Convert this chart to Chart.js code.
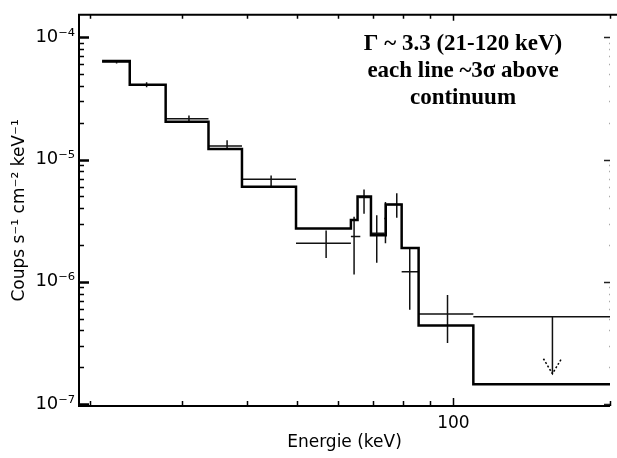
<!DOCTYPE html>
<html>
<head>
<meta charset="utf-8">
<script src="https://cdn.jsdelivr.net/npm/chart.js@4.4.0/dist/chart.umd.min.js"></script>
<style>
  body { margin: 0; background: #fff; }
</style>
</head>
<body>
<canvas id="spectre" width="617" height="458"></canvas>
<script>
// modele : bords des canaux (keV) et flux
const modelEdges = [21.1, 23.85, 27.96, 33.8, 39.2, 49.8, 63.5, 65.4, 69.4, 74.1, 79.5, 85.7, 109.2, 200];
const modelFlux = [6.4e-5, 4.1e-5, 2.04e-5, 1.22e-5, 6.0e-6, 2.73e-6, 3.2e-6, 5.0e-6, 2.4e-6, 4.3e-6, 1.89e-6, 4.4e-7, 1.45e-7];

// points mesures (croix)
const ptE    = [22.5, 25.7, 31.0, 36.7, 44.6, 56.9, 64.4, 67.3, 71.2, 74.0, 77.8, 82.4, 97.4];
const ptElo  = [21.1, 23.85, 27.96, 33.8, 39.2, 49.8, 63.5, 65.8, 69.4, 73.6, 74.7, 79.5, 85.7];
const ptEhi  = [23.85, 27.96, 33.8, 39.2, 49.8, 63.5, 66.2, 69.4, 73.7, 74.4, 79.5, 85.5, 109.2];
const ptFlux = [6.3e-5, 4.1e-5, 2.16e-5, 1.29e-5, 6.9e-6, 2.07e-6, 2.35e-6, 4.9e-6, 2.5e-6, 3.3e-6, 4.3e-6, 1.21e-6, 5.45e-7];
const ptLo   = [6.1e-5, 3.9e-5, 2.0e-5, 1.2e-5, 6.0e-6, 1.57e-6, 1.15e-6, 3.6e-6, 1.43e-6, 2.07e-6, 3.35e-6, 5.9e-7, 3.16e-7];
const ptHi   = [6.5e-5, 4.3e-5, 2.3e-5, 1.44e-5, 7.4e-6, 2.63e-6, 3.4e-6, 5.7e-6, 3.5e-6, 4.5e-6, 5.3e-6, 1.89e-6, 7.8e-7];

// limite superieure
const ulE    = [155];
const ulElo  = [109.2];
const ulEhi  = [200];
const ulFlux = [5.19e-7];
const ulTip  = [1.77e-7];

// graduations
const xTicks  = [20, 30, 40, 50, 60, 70, 80, 90, 100, 200];
const xLabels = ['', '', '', '', '', '', '', '', '100', ''];
const yDecades = [1e-7, 1e-6, 1e-5, 1e-4];
const yLabels  = ['10⁻⁷', '10⁻⁶', '10⁻⁵', '10⁻⁴'];

const texte = ['Γ ~ 3.3 (21-120 keV)', 'each line ~3σ above', 'continuum'];

const modele = modelFlux.map((f, i) => ({ x: modelEdges[i], y: f }));
modele.push({ x: modelEdges[modelEdges.length - 1], y: modelFlux[modelFlux.length - 1] });

const barres = [];
ptE.forEach((e, i) => {
  barres.push({ x: ptElo[i], y: ptFlux[i] }, { x: ptEhi[i], y: ptFlux[i] }, { x: e, y: null });
  barres.push({ x: e, y: ptLo[i] }, { x: e, y: ptHi[i] }, { x: e, y: null });
});
ulE.forEach((e, i) => {
  barres.push({ x: ulElo[i], y: ulFlux[i] }, { x: ulEhi[i], y: ulFlux[i] }, { x: e, y: null });
  barres.push({ x: e, y: ulFlux[i] }, { x: e, y: ulTip[i] }, { x: e, y: null });
});

const yTicks = [];
yDecades.forEach((d, k) => {
  for (let m = 1; m <= 9; m++) {
    const v = m * d;
    if (v >= 0.964e-7 && v <= 1.53e-4) yTicks.push({ value: v, major: m === 1, label: m === 1 ? yLabels[k] : '' });
  }
});

const cadre = {
  id: 'cadre',
  afterDatasetsDraw(chart) {
    const { ctx, chartArea: a, scales: { x, y } } = chart;
    ctx.save();
    ctx.lineCap = 'butt';
    // graduations y (gauche + droite)
    y.ticks.forEach(t => {
      const py = Math.round(y.getPixelForValue(t.value)) + 0.5;
      ctx.strokeStyle = '#000';
      ctx.lineWidth = t.major ? 2.5 : 1.5;
      ctx.beginPath();
      ctx.moveTo(a.left, py);
      ctx.lineTo(a.left + (t.major ? 10 : 5), py);
      ctx.stroke();
      ctx.strokeStyle = t.major ? '#222' : '#aaa';
      ctx.lineWidth = 1.5;
      ctx.beginPath();
      ctx.moveTo(a.right, py);
      ctx.lineTo(a.right + 4 - (t.major ? 10 : 5), py);
      ctx.stroke();
    });
    // graduations x (bas + haut)
    x.ticks.forEach(t => {
      const px = Math.round(x.getPixelForValue(t.value)) + 0.5;
      ctx.strokeStyle = '#000';
      ctx.lineWidth = 1.5;
      ctx.beginPath();
      ctx.moveTo(px, a.bottom);
      ctx.lineTo(px, a.bottom - (t.major ? 8 : 5));
      ctx.moveTo(px, a.top);
      ctx.lineTo(px, a.top + (t.major ? 6 : 4));
      ctx.stroke();
    });
    // cadre
    ctx.strokeStyle = '#000';
    ctx.lineWidth = 2;
    ctx.beginPath();
    ctx.moveTo(chart.width, a.top);
    ctx.lineTo(a.left, a.top);
    ctx.lineTo(a.left, a.bottom);
    ctx.lineTo(a.right, a.bottom);
    ctx.stroke();
    // fleche de la limite superieure
    ctx.lineWidth = 1.5;
    ctx.setLineDash([2, 2]);
    ulE.forEach((e, i) => {
      const px = x.getPixelForValue(e);
      const py = y.getPixelForValue(ulTip[i]);
      ctx.beginPath();
      ctx.moveTo(px - 9, py - 15);
      ctx.lineTo(px, py);
      ctx.lineTo(px + 9, py - 15);
      ctx.stroke();
    });
    ctx.setLineDash([]);
    // texte
    ctx.fillStyle = '#000';
    ctx.font = 'bold 23px "Liberation Serif"';
    ctx.textAlign = 'center';
    ctx.textBaseline = 'alphabetic';
    texte.forEach((l, i) => ctx.fillText(l, 463, 50 + i * 27));
    ctx.restore();
  }
};

new Chart(document.getElementById('spectre'), {
  type: 'line',
  data: {
    datasets: [
      {
        data: modele,
        stepped: true,
        borderColor: '#000',
        borderWidth: 2.5,
        borderJoinStyle: 'miter',
        pointRadius: 0,
        fill: false
      },
      {
        data: barres,
        borderColor: '#111',
        borderWidth: 1.5,
        pointRadius: 0,
        spanGaps: false,
        fill: false
      }
    ]
  },
  options: {
    responsive: false,
    animation: false,
    devicePixelRatio: 1,
    layout: { padding: { top: 7, right: 4, left: 0, bottom: 0 } },
    plugins: { legend: { display: false }, tooltip: { enabled: false } },
    scales: {
      x: {
        type: 'logarithmic',
        min: 19.05,
        max: 200,
        grid: { display: false, drawTicks: false },
        border: { display: false },
        afterBuildTicks: s => { s.ticks = xTicks.map((v, i) => ({ value: v, major: xLabels[i] !== '' })); },
        afterFit: s => { s.height = 52; },
        ticks: {
          autoSkip: false,
          maxRotation: 0,
          padding: 7,
          color: '#000',
          font: { family: 'DejaVu Sans', size: 17 },
          callback: (v, i) => xLabels[i]
        },
        title: {
          display: true,
          text: 'Energie (keV)',
          color: '#000',
          font: { family: 'DejaVu Sans', size: 17 },
          padding: { top: 0, bottom: 5 }
        }
      },
      y: {
        type: 'logarithmic',
        min: 0.964e-7,
        max: 1.53e-4,
        grid: { display: false, drawTicks: false },
        border: { display: false },
        afterBuildTicks: s => { s.ticks = yTicks.map(t => ({ value: t.value, major: t.major })); },
        afterFit: s => { s.width = 79; },
        ticks: {
          autoSkip: false,
          padding: 4,
          color: '#000',
          font: { family: 'DejaVu Sans', size: 18 },
          callback: (v, i) => yTicks[i].label
        },
        title: {
          display: true,
          text: 'Coups s⁻¹ cm⁻² keV⁻¹',
          color: '#000',
          font: { family: 'DejaVu Sans', size: 17 },
          padding: { top: 9, bottom: 0 }
        }
      }
    }
  },
  plugins: [cadre]
});
</script>
</body>
</html>
